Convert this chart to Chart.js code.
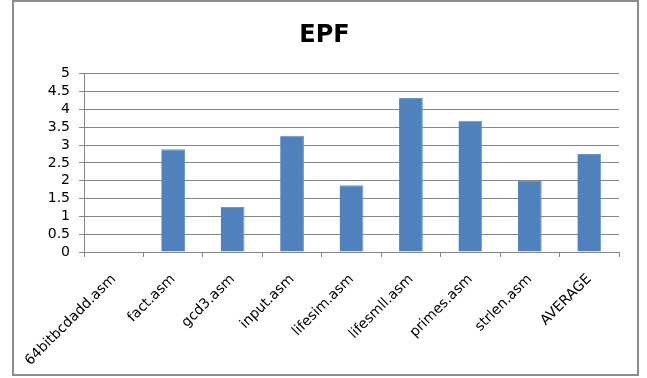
<!DOCTYPE html>
<html>
<head>
<meta charset="utf-8">
<title>EPF</title>
<script src="https://cdn.jsdelivr.net/npm/chart.js@4"></script>
<style>
  html, body { margin: 0; padding: 0; background: #fff; }
  .wrap { position: relative; width: 647px; height: 378px; }
  .frame {
    position: absolute; left: 12px; top: 0px; width: 623px; height: 372px;
    border: 2px solid #8c8c8c; pointer-events: none;
  }
  canvas { position: absolute; left: 0; top: 0; }
</style>
</head>
<body>
<div class="wrap">
  <canvas id="epfChart" width="647" height="378"></canvas>
  <div class="frame"></div>
</div>
<script>
// EPF per test program
const programs = ['64bitbcdadd.asm', 'fact.asm', 'gcd3.asm', 'input.asm', 'lifesim.asm',
                  'lifesmll.asm', 'primes.asm', 'strlen.asm', 'AVERAGE'];
const epf = [0, 2.88, 1.26, 3.26, 1.87, 4.32, 3.68, 1.99, 2.75];
const yMin = 0, yMax = 5, yStep = 0.5;

const font = 'DejaVu Sans';
const gridGray = '#868686';

const ctx = document.getElementById('epfChart').getContext('2d');

new Chart(ctx, {
  type: 'bar',
  data: {
    labels: programs,
    datasets: [{
      label: 'EPF',
      data: epf,
      backgroundColor: '#4f81bd',
      borderColor: '#6b95c8',
      borderWidth: { left: 0, right: 1, top: 1, bottom: 0 },
      categoryPercentage: 1,
      barPercentage: 0.4
    }]
  },
  options: {
    responsive: false,
    animation: false,
    layout: { padding: { left: 30, right: 28, top: 0, bottom: 0 } },
    plugins: {
      legend: { display: false },
      tooltip: { enabled: false },
      title: {
        display: true,
        text: 'EPF',
        color: '#000',
        font: { family: font, size: 24, weight: 'bold' },
        padding: { top: 21, bottom: 24 }
      }
    },
    scales: {
      x: {
        afterFit: (scale) => { scale.height = 126; },
        grid: { drawOnChartArea: false, drawTicks: true, tickLength: 5, color: gridGray, offset: true },
        border: { color: gridGray, width: 1 },
        ticks: {
          color: '#000',
          font: { family: font, size: 14 },
          minRotation: 45,
          maxRotation: 45,
          autoSkip: false,
          padding: 14
        }
      },
      y: {
        min: yMin,
        max: yMax,
        afterFit: (scale) => { scale.width = 54; },
        grid: { color: gridGray, tickLength: 5, drawTicks: true },
        border: { color: gridGray, width: 1 },
        ticks: {
          stepSize: yStep,
          autoSkip: false,
          color: '#000',
          font: { family: font, size: 14 },
          padding: 9,
          callback: (v) => String(v)
        }
      }
    }
  }
});
</script>
</body>
</html>
